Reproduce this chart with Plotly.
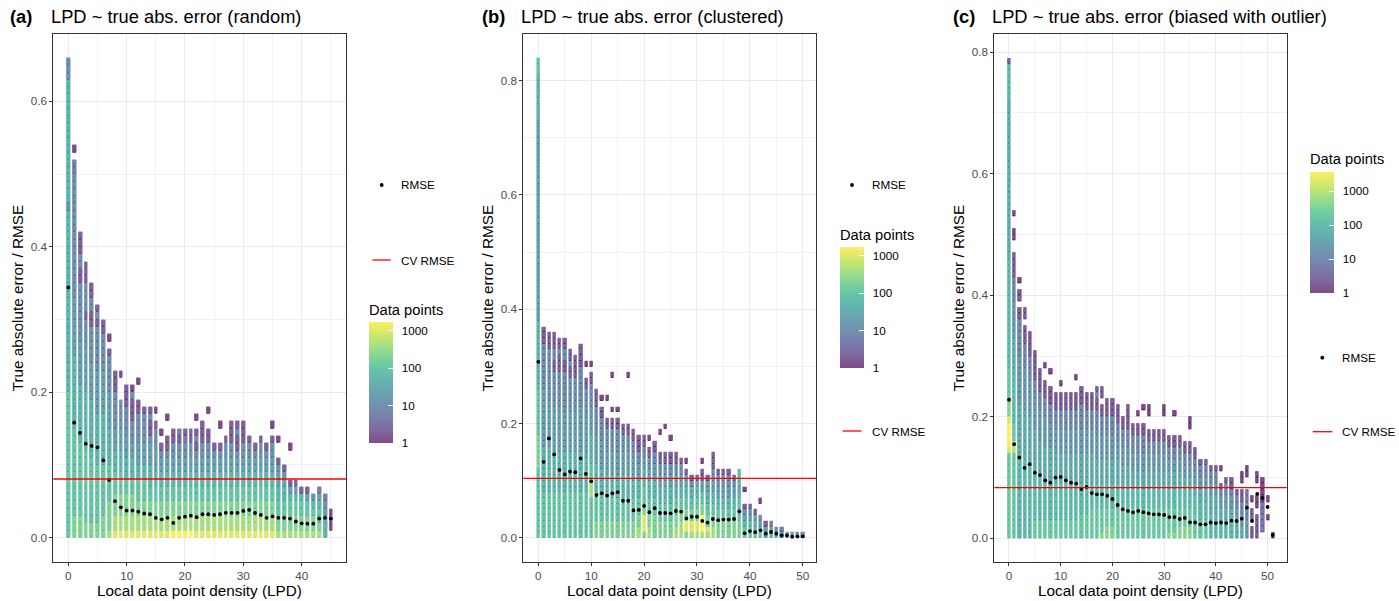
import math
import plotly.graph_objects as go
from plotly.colors import sequential

W, H = 1399, 601
FONT = "Liberation Sans, Arial, sans-serif"

# ---------------------------------------------------------------- data
BIN = 0.01  # height of one error bin

# representative number of data points for each cell code
LEVEL_COUNT = {"0": 1, "1": 2, "2": 5, "3": 10, "4": 20, "5": 50, "6": 100,
               "7": 200, "8": 400, "9": 1000, "A": 1700, "B": 3600}

TAGS = ["(a)", "(b)", "(c)"]
TITLES = ["LPD ~ true abs. error (random)",
          "LPD ~ true abs. error (clustered)",
          "LPD ~ true abs. error (biased with outlier)"]

LPD_A = list(range(0, 46))
LPD_B = list(range(0, 51))
LPD_C = list(range(0, 52))

# cells per LPD column, bottom bin upwards, run-length coded "<code>x<n>" ('.' = empty bin)
CELLS_A = [
    "6x20 5x25 3x1 5x17 3x3",
    "7x3 6x12 5x10 4x8 3x17 2x2 .x1 0x1",
    "7x3 6x10 5x8 4x6 3x8 1x2 3x2 1x3",
    "7x2 6x10 5x8 4x6 3x4 1x1 3x4 1x3",
    "7x2 6x9 5x8 4x5 3x5 1x2 3x2 1x2",
    "7x2 6x8 5x7 4x6 3x6 1x1 3x1 1x1",
    "7x3 6x7 5x7 4x6 3x5 1x2",
    "8x1 7x4 6x5 5x5 4x5 3x5 1x1 .x1 0x1",
    "9x1 8x2 7x3 6x3 5x3 4x3 3x5 1x3",
    "9x1 8x2 7x3 6x3 5x3 4x3 3x4 .x3 0x1",
    "9x1 8x2 7x3 6x2 5x3 4x3 3x4 1x3",
    "9x1 8x2 7x3 6x2 5x3 4x2 3x3 1x3 3x1 0x1",
    "9x1 8x2 7x2 6x3 5x2 4x3 3x4 1x2 .x2 0x1",
    "9x1 8x2 7x2 6x3 5x2 4x3 3x4 1x1",
    "9x1 8x2 7x2 6x2 5x3 4x3 3x1 1x2 3x1 1x1",
    "9x1 8x2 7x2 6x2 5x2 4x3 3x3 1x1 .x1 0x1",
    "9x1 8x2 7x2 6x2 5x2 4x2 3x1 1x1 .x1 0x1",
    "9x1 8x2 7x2 6x2 5x2 4x2 3x1 1x2 .x2 0x1",
    "Ax1 8x2 7x2 6x2 5x2 4x2 3x2 1x2",
    "Ax1 8x2 7x2 6x2 5x2 4x2 3x2 1x1 2x1",
    "Ax1 8x2 7x2 6x2 5x2 4x2 3x2 2x1 1x1",
    "Ax1 8x2 7x2 6x2 5x2 4x2 3x2 1x2",
    "9x1 8x2 7x2 6x2 5x2 4x2 3x1 1x1 3x1 1x1 .x1 0x1",
    "9x1 8x2 7x2 6x2 5x2 4x2 3x2 1x3",
    "9x1 8x2 7x2 6x2 5x2 4x2 3x2 1x2 .x2 0x1",
    "9x1 8x2 7x2 6x2 5x2 4x2 3x1 1x1",
    "9x1 8x2 7x2 6x2 5x2 4x2 3x1 1x1 .x2 0x1",
    "9x1 8x2 7x2 6x2 5x2 4x2 3x2 1x1",
    "9x1 8x2 7x2 6x2 5x2 4x2 3x2 1x3",
    "9x1 8x2 7x2 6x2 5x2 4x2 3x1 1x2 3x1 1x1",
    "9x1 8x2 7x2 6x2 5x2 4x2 3x2 1x3",
    "9x1 8x2 7x2 6x2 5x2 4x2 3x2 1x1",
    "9x1 8x2 7x2 6x2 5x2 4x2 3x1 1x1",
    "9x1 8x2 7x2 6x2 5x2 4x2 3x2 1x1",
    "9x1 8x2 7x2 6x2 5x2 4x2 3x1 1x1",
    "9x1 8x2 7x2 6x2 5x2 4x2 3x2 1x1 .x1 0x1",
    "8x1 7x2 6x2 5x2 4x2 3x1 1x1 .x2 0x1",
    "8x1 7x2 6x2 5x2 4x1 3x1 1x1",
    "8x1 7x2 6x2 5x1 4x1 1x1 .x4 0x1",
    "8x1 7x2 6x2 5x1 4x1 1x1",
    "8x1 7x2 6x2 5x1 1x1",
    "8x1 7x2 6x2 4x1 1x1",
    "8x1 7x2 6x1 5x1 3x1",
    "8x1 7x1 6x2 5x1 4x1 2x1",
    "5x3 4x1 3x1 2x1",
    ".x1 0x1 1x1 0x1",
]

CELLS_B = [
    "6x12 7x6 6x8 5x12 4x35 5x8 6x3",
    "6x8 5x8 4x10 3x8 1x3",
    "6x8 5x8 4x8 3x9 1x3",
    "6x8 5x7 4x8 3x6 1x2 3x2 1x3",
    "6x8 5x7 4x8 3x6 1x3 3x1 1x2",
    "6x8 5x7 4x7 3x7 1x2 3x2 1x2",
    "6x8 5x7 4x7 3x6 1x2 3x1 1x2",
    "6x8 5x7 4x7 3x6 1x4",
    "6x8 5x7 4x8 3x7 1x4",
    "6x8 5x6 4x7 3x5 1x2 .x2 0x1",
    "6x7 8x3 6x3 5x5 4x5 3x4 1x2 .x1 0x1",
    "7x3 6x5 5x5 4x5 3x5 1x3",
    "7x3 6x5 5x4 4x5 3x4 1x2 .x1 0x1",
    "7x3 6x4 5x4 4x4 3x4 1x2 .x3 0x1",
    "7x3 6x4 5x4 4x4 3x4 1x2 .x1 0x1 .x5 0x1",
    "7x3 6x4 5x4 4x4 3x4 1x2 .x1 0x1",
    "7x3 6x4 5x4 4x4 3x3 1x2",
    "7x3 6x4 5x4 4x4 3x3 1x2 .x8 0x1",
    "7x3 6x4 5x3 4x4 3x3 1x2",
    "8x2 7x2 6x3 5x3 4x3 3x2 1x3",
    "7x1 9x3 7x2 6x3 5x3 4x2 3x2 1x2",
    "8x2 7x2 6x3 5x3 4x2 3x2 1x2 .x1 0x1",
    "7x4 6x3 5x3 4x3 3x2 1x2",
    "7x3 6x3 5x3 4x2 3x2 1x2 .x3 0x1",
    "7x3 6x3 5x3 4x2 3x2 1x2 .x4 0x1",
    "7x3 6x3 5x3 4x2 3x2 1x2 .x2 0x1",
    "8x2 7x2 6x3 5x2 4x2 3x2 1x2",
    "8x3 7x2 6x2 5x2 4x2 3x2 1x1",
    "7x1 9x2 7x2 6x2 5x2 4x2 1x1 .x1 0x1",
    "8x1 9x2 7x2 6x2 5x2 3x1 1x1",
    "8x1 9x2 7x2 6x2 5x2 4x1 1x1",
    "8x1 Ax3 7x2 6x2 4x2 1x2 .x1 0x1",
    "8x1 9x1 7x2 6x2 5x2 4x2 1x1",
    "8x2 7x2 6x2 5x2 4x2 3x2 1x3",
    "7x3 6x2 5x2 4x2 3x2 1x1",
    "7x3 6x2 5x2 4x2 3x2 1x1",
    "7x3 6x2 5x2 4x2 3x2 1x1",
    "7x3 6x2 5x2 4x2 3x1 1x1",
    "7x3 6x4 5x3 6x2",
    "7x1 6x1 5x1 4x1 3x1 1x1 .x2 0x1",
    "6x2 5x1 4x1 3x1 1x1",
    "6x1 5x2 4x1 1x1",
    "6x1 5x1 4x1 3x1 .x2 0x1",
    "5x1 4x1 1x1",
    "5x1 4x1 2x1",
    "5x1 3x1",
    "4x1 2x1",
    "4x1",
    "4x1",
    "3x1",
    "3x1",
]

CELLS_C = [
    "7x14 Ax1 Bx4 Ax1 8x3 7x5 6x18 5x26 6x6 1x1",
    "7x14 9x2 7x3 6x8 5x6 4x6 3x4 1x4 .x2 0x2 .x2 0x1",
    "6x14 5x8 4x8 3x6 1x2 .x1 1x2 .x1 0x1",
    "6x13 5x8 4x7 3x4 1x3 .x1 1x2",
    "6x12 5x8 4x6 3x4 1x4",
    "7x3 6x8 5x7 4x5 3x3 1x5",
    "7x3 6x7 5x6 4x5 3x3 1x4",
    "7x3 6x6 5x6 4x5 3x3 1x3 .x2 0x1",
    "7x3 6x6 5x6 4x4 3x3 1x3 .x2 0x1",
    "7x3 6x6 5x5 4x4 3x3 1x3",
    "7x3 6x6 5x5 4x4 3x3 1x3 .x1 0x1",
    "7x3 6x6 5x5 4x4 3x3 1x3",
    "7x3 6x6 5x5 4x4 3x3 1x3",
    "7x3 6x6 5x5 4x4 3x3 1x3 .x2 0x1",
    "7x4 6x5 5x5 4x4 3x4 1x3",
    "7x4 6x5 5x5 4x4 3x3 1x3",
    "7x5 6x4 5x5 4x4 3x3 1x3",
    "7x5 6x4 5x4 4x4 3x4 1x2 3x1 1x1",
    "8x1 7x4 6x4 5x4 4x4 3x3 1x2 .x1 1x2",
    "8x2 7x3 6x4 5x4 4x4 3x3 1x3",
    "8x2 7x3 6x4 5x4 4x4 3x3 1x3",
    "7x5 6x4 5x4 4x3 3x3 1x3",
    "7x5 6x3 5x4 4x3 3x3 1x2",
    "7x5 6x3 5x4 4x3 3x3 1x4",
    "7x5 6x3 5x3 4x3 3x3 1x2",
    "7x5 6x3 5x3 4x3 3x3 1x2 .x1 0x1",
    "7x5 6x3 5x3 4x3 3x3 1x2 .x2 0x1",
    "7x5 6x3 5x3 4x3 3x2 1x2 .x2 0x2",
    "7x5 6x3 5x3 4x3 3x2 1x2",
    "7x5 6x3 5x3 4x3 3x2 1x2",
    "7x5 6x3 5x3 4x3 3x2 1x2 .x2 0x2",
    "8x1 7x4 6x3 5x3 4x2 3x2 1x2",
    "8x1 7x4 6x3 5x3 4x2 3x2 1x2 .x3 0x1",
    "8x2 7x3 6x3 5x3 4x2 3x2 1x2",
    "8x2 7x3 6x3 5x2 4x2 3x2 1x2",
    "8x2 7x3 6x3 5x2 4x2 3x2 1x2 .x2 0x2",
    "7x4 6x3 5x2 4x2 3x2 1x2",
    "7x3 6x3 5x2 4x2 3x2 1x1",
    "7x3 6x3 5x2 4x2 3x2 1x1",
    "6x4 5x3 4x2 3x2 1x1",
    "6x4 5x3 4x2 3x2 1x1",
    "6x3 5x2 4x2 3x1 1x1 .x2 0x1",
    "6x3 5x2 4x2 3x2 1x1",
    "6x3 5x2 4x2 3x1 1x2",
    "5x3 4x2 3x2 1x1",
    "5x2 4x2 3x2 1x2 .x1 0x2",
    "4x3 3x3 2x2 .x2 0x2",
    "1x2 .x1 1x2 .x1 0x1",
    "1x4 .x1 0x2 .x2 0x2",
    ".x1 2x5 0x4",
    ".x3 0x1 .x2 0x1",
    "0x1",
]

RMSE_A = [0.344, 0.158, 0.144, 0.129, 0.126, 0.124, 0.106, 0.079, 0.050, 0.0415,
          0.037, 0.037, 0.0355, 0.033, 0.032, 0.027, 0.025, 0.027, 0.020, 0.027,
          0.0286, 0.030, 0.028, 0.032, 0.032, 0.031, 0.032, 0.034, 0.034, 0.034,
          0.0365, 0.038, 0.0337, 0.031, 0.027, 0.029, 0.027, 0.027, 0.026, 0.022,
          0.0195, 0.019, 0.019, 0.026, 0.027, 0.026]
RMSE_B = [0.308, 0.133, 0.174, 0.146, 0.119, 0.111, 0.116, 0.115, 0.139, 0.112,
          0.099, 0.075, 0.078, 0.074, 0.078, 0.080, 0.065, 0.065, 0.048, 0.049,
          0.056, 0.045, 0.052, 0.0435, 0.0435, 0.043, 0.047, 0.046, 0.034, 0.037,
          0.037, 0.0296, 0.0267, 0.033, 0.031, 0.032, 0.032, 0.033, 0.0465, 0.008,
          0.012, 0.010, 0.0133, 0.0074, 0.0103, 0.0074, 0.0045, 0.0045, 0.002, 0.0025,
          0.0025]
RMSE_C = [0.228, 0.155, 0.133, 0.116, 0.122, 0.108, 0.104, 0.0955, 0.0915, 0.100,
          0.101, 0.0955, 0.0915, 0.090, 0.081, 0.0845, 0.0745, 0.0724, 0.0724, 0.070,
          0.0647, 0.0548, 0.0477, 0.045, 0.0428, 0.045, 0.043, 0.041, 0.0395, 0.0395,
          0.0384, 0.035, 0.035, 0.0318, 0.0335, 0.0263, 0.026, 0.023, 0.023, 0.026,
          0.025, 0.026, 0.025, 0.029, 0.0285, 0.0323, 0.0504, 0.0285, 0.073, 0.0663,
          0.0515, 0.0054]

CV_RMSE = [0.0805, 0.104, 0.0833]

COUNT_TICKS = [1, 10, 100, 1000]
X_TICKS = [0, 10, 20, 30, 40, 50]
Y_TICKS = [0.0, 0.2, 0.4, 0.6, 0.8]

# ---------------------------------------------------------------- layout geometry (pixels)
PANEL_X = [(53.3, 346.0), (523.3, 816.0), (994.3, 1286.7)]
PANEL_TOP, PANEL_BOTTOM = 34.0, 562.0
X_RANGES = [(-2.57, 47.6), (-2.84, 52.5), (-2.84, 53.7)]
Y_RANGES = [(-0.0337, 0.6926), (-0.0422, 0.8817), (-0.039, 0.830)]
X_GAP = [2.45, 2.2, 2.2]
TAG_X = [8, 480, 951]

# colour bar / legend placement
CBAR = [(369.3, 322.3), (840.0, 247.0), (1310.0, 172.3)]      # left, top
CBAR_TITLE_Y = [310.0, 235.0, 159.3]
RMSE_KEY = [(381.7, 185.0), (852.0, 185.0), (1322.3, 357.7)]
CV_KEY = [(372.3, 390.7, 260.0), (842.5, 861.5, 431.0), (1312.7, 1332.3, 431.7)]
KEY_TEXT_X = [399.0, 869.5, 1339.7]


def px(x):
    return x / W


def py(y):
    return 1 - y / H


def decode(code):
    cells = []
    for tok in code.split():
        lv, n = tok.split("x")
        cells += [lv] * int(n)
    return cells


def grid(columns):
    cols = [decode(c) for c in columns]
    nrow = max(len(c) for c in cols)
    z = [[None] * len(cols) for _ in range(nrow)]
    for j, col in enumerate(cols):
        for i, lv in enumerate(col):
            if lv != ".":
                z[i][j] = math.log10(LEVEL_COUNT[lv])
    return z


def faded(hexcol, alpha):
    h = hexcol.lstrip("#")
    r, g, b = (int(h[k:k + 2], 16) for k in (0, 2, 4))
    f = lambda c: round(c * alpha + 255 * (1 - alpha))
    return f"rgb({f(r)},{f(g)},{f(b)})"


VIR = sequential.Viridis
SCALE_FILL = [[i / (len(VIR) - 1), faded(c, 0.70)] for i, c in enumerate(VIR)]
SCALE_SEAM = [[i / (len(VIR) - 1), faded(c, 0.97)] for i, c in enumerate(VIR)]

fig = go.Figure()
panels = [(LPD_A, CELLS_A, RMSE_A), (LPD_B, CELLS_B, RMSE_B), (LPD_C, CELLS_C, RMSE_C)]
annotations, shapes = [], []
tick_font = dict(family=FONT, size=11.7, color="#4d4d4d")

for k, (lpd, cells, rmse) in enumerate(panels):
    sfx = "" if k == 0 else str(k + 1)
    xa, ya = "x" + sfx, "y" + sfx
    z = grid(cells)
    zmax = max(v for row in z for v in row if v is not None)
    yc = [BIN * (i + 0.5) for i in range(len(z))]

    # darker seams between bins, then the bins themselves
    fig.add_trace(go.Heatmap(x=lpd, y=yc, z=z, zmin=0, zmax=zmax, colorscale=SCALE_SEAM,
                             xgap=X_GAP[k], showscale=False, hoverinfo="skip",
                             xaxis=xa, yaxis=ya))
    cl, ct = CBAR[k]
    fig.add_trace(go.Heatmap(
        x=lpd, y=yc, z=z, zmin=0, zmax=zmax, colorscale=SCALE_FILL,
        xgap=X_GAP[k], ygap=1, xaxis=xa, yaxis=ya, hoverinfo="skip",
        colorbar=dict(x=px(cl), xanchor="left", y=py(ct), yanchor="top",
                      len=121, lenmode="pixels", thickness=24, thicknessmode="pixels",
                      xpad=0, ypad=0, outlinewidth=0,
                      tickvals=[math.log10(v) for v in COUNT_TICKS],
                      ticktext=["\u2002" + str(v) for v in COUNT_TICKS],
                      ticks="inside", ticklen=5, tickcolor="white", tickwidth=1,
                      tickfont=dict(family=FONT, size=11.7, color="black"))))
    fig.add_trace(go.Scatter(x=lpd, y=rmse, mode="markers", xaxis=xa, yaxis=ya,
                             marker=dict(color="black", size=3.8), showlegend=False,
                             hoverinfo="skip"))

    x0, x1 = PANEL_X[k]
    xr, yr = X_RANGES[k], Y_RANGES[k]
    axis_common = dict(showline=True, mirror=True, linecolor="#333333", linewidth=1,
                       ticks="outside", ticklen=3, tickcolor="#333333", tickwidth=1,
                       gridcolor="#ebebeb", gridwidth=1.1, zeroline=False,
                       tickfont=tick_font)
    fig.update_layout(**{
        "xaxis" + sfx: dict(domain=[px(x0), px(x1)], range=list(xr), anchor=ya,
                            tickvals=[t for t in X_TICKS if xr[0] < t < xr[1]],
                            minor=dict(dtick=5, tick0=5, showgrid=True, gridcolor="#f2f2f2",
                                       gridwidth=0.6, ticks=""),
                            **axis_common),
        "yaxis" + sfx: dict(domain=[py(PANEL_BOTTOM), py(PANEL_TOP)], range=list(yr),
                            anchor=xa,
                            tickvals=[t for t in Y_TICKS if yr[0] < t < yr[1]],
                            tickformat=".1f",
                            minor=dict(dtick=0.1, tick0=0.1, showgrid=True,
                                       gridcolor="#f2f2f2", gridwidth=0.6, ticks=""),
                            **axis_common),
    })

    # cross-validated RMSE reference line
    shapes.append(dict(type="line", xref=xa + " domain", yref=ya, x0=0, x1=1,
                       y0=CV_RMSE[k], y1=CV_RMSE[k], line=dict(color="#ff0000", width=1.3)))

    # titles
    annotations.append(dict(text="<b>" + TAGS[k] + "</b>", x=px(TAG_X[k]), y=py(17),
                            xref="paper", yref="paper", xanchor="left", yanchor="middle",
                            showarrow=False, font=dict(family=FONT, size=18.3, color="black")))
    annotations.append(dict(text=TITLES[k], x=px(x0 - 4), y=py(17), xref="paper", yref="paper",
                            xanchor="left", yanchor="middle", showarrow=False,
                            font=dict(family=FONT, size=18.3, color="black")))
    annotations.append(dict(text="Local data point density (LPD)", x=px((x0 + x1) / 2),
                            y=py(590), xref="paper", yref="paper", xanchor="center",
                            yanchor="middle", showarrow=False,
                            font=dict(family=FONT, size=15.3, color="black")))
    annotations.append(dict(text="True absolute error / RMSE", x=px(x0 - 36), y=py(298),
                            xref="paper", yref="paper", xanchor="center", yanchor="middle",
                            textangle=-90, showarrow=False,
                            font=dict(family=FONT, size=15.3, color="black")))

    # legend: colour bar title and the two line/point keys
    annotations.append(dict(text="Data points", x=px(cl - 2), y=py(CBAR_TITLE_Y[k]),
                            xref="paper", yref="paper", xanchor="left", yanchor="middle",
                            showarrow=False, font=dict(family=FONT, size=14.7, color="black")))
    rx, ry = RMSE_KEY[k]
    shapes.append(dict(type="circle", xref="paper", yref="paper",
                       x0=px(rx - 1.9), x1=px(rx + 1.9), y0=py(ry + 1.9), y1=py(ry - 1.9),
                       fillcolor="black", line=dict(width=0)))
    annotations.append(dict(text="RMSE", x=px(KEY_TEXT_X[k]), y=py(ry), xref="paper",
                            yref="paper", xanchor="left", yanchor="middle", showarrow=False,
                            font=dict(family=FONT, size=11.7, color="black")))
    lx0, lx1, ly = CV_KEY[k]
    shapes.append(dict(type="line", xref="paper", yref="paper", x0=px(lx0), x1=px(lx1),
                       y0=py(ly), y1=py(ly), line=dict(color="#ff0000", width=1.3)))
    annotations.append(dict(text="CV RMSE", x=px(KEY_TEXT_X[k]), y=py(ly), xref="paper",
                            yref="paper", xanchor="left", yanchor="middle", showarrow=False,
                            font=dict(family=FONT, size=11.7, color="black")))

fig.update_layout(width=W, height=H, margin=dict(l=0, r=0, t=0, b=0),
                  paper_bgcolor="white", plot_bgcolor="white", showlegend=False,
                  annotations=annotations, shapes=shapes,
                  font=dict(family=FONT, color="black"))

fig.write_html("out.html")
